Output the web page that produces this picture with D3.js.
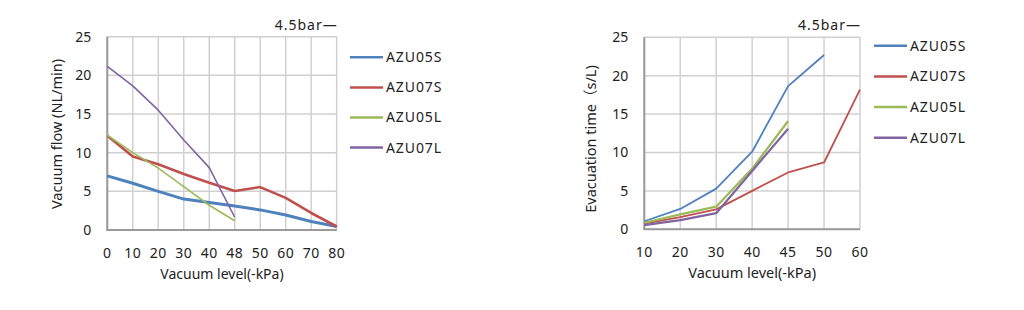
<!DOCTYPE html>
<html><head><meta charset="utf-8">
<script src="https://cdn.jsdelivr.net/npm/d3@7"></script>
<style>body{margin:0;background:#fff}svg{display:block}text{font-family:"Noto Sans","Noto Sans CJK SC",sans-serif;fill:#222}</style>
</head><body><svg id="c" width="1024" height="310"></svg>
<script>
const seriesNames = ["AZU05S","AZU07S","AZU05L","AZU07L"];
const seriesColors = ["#4f81bd","#c0504d","#9bbb59","#8064a2"];
const yTicks = [0,5,10,15,20,25];

// Left chart: vacuum flow
const flowCategories = ["0","10","20","30","40","48","50","60","70","80"];
const flowAZU05S = [7.0,6.05,5.0,4.0,3.55,3.1,2.6,1.95,1.1,0.45];
const flowAZU07S = [12.2,9.5,8.5,7.25,6.1,5.05,5.55,4.15,2.2,0.45];
const flowAZU05L = [12.25,10.0,8.0,5.6,3.2,1.2];
const flowAZU07L = [21.15,18.65,15.5,11.65,8.07,1.65];

// Right chart: evacuation time
const evacCategories = ["10","20","30","40","45","50","60"];
const evacAZU05S = [1.05,2.65,5.3,10.1,18.65,22.7];
const evacAZU07S = [0.75,1.6,2.6,5.0,7.4,8.7,18.2];
const evacAZU05L = [0.85,1.95,2.95,7.9,14.1];
const evacAZU07L = [0.55,1.2,2.1,7.6,13.1];

const svg = d3.select("#c");

function drawChart(o){
  const g = svg.append("g");
  const x = d3.scalePoint().domain(o.categories).range([o.x0,o.x1]).padding(0);
  const y = d3.scaleLinear().domain([0,25]).range([o.y1,o.y0]);
  g.selectAll(".vg").data(o.categories).enter().append("line")
    .attr("x1",d=>x(d)).attr("x2",d=>x(d)).attr("y1",o.y0).attr("y2",o.y1)
    .attr("stroke","#d0d0d0").attr("stroke-width",1.5);
  g.selectAll(".hg").data(yTicks).enter().append("line")
    .attr("x1",o.x0).attr("x2",o.x1).attr("y1",d=>y(d)).attr("y2",d=>y(d))
    .attr("stroke","#d0d0d0").attr("stroke-width",1.5);
  g.append("line").attr("x1",o.x0).attr("x2",o.x0).attr("y1",o.y0).attr("y2",o.y1).attr("stroke","#9a9a9a").attr("stroke-width",2);
  g.append("line").attr("x1",o.x0-1).attr("x2",o.x1).attr("y1",o.y1).attr("y2",o.y1).attr("stroke","#9a9a9a").attr("stroke-width",2);
  g.selectAll(".yt").data(yTicks).enter().append("text")
    .attr("x",o.x0-16).attr("y",d=>y(d)).attr("dy","0.35em").attr("text-anchor","end")
    .attr("font-size",14).text(d=>d);
  g.selectAll(".xt").data(o.categories).enter().append("text")
    .attr("x",d=>x(d)).attr("y",o.y1+23).attr("dy","0.35em").attr("text-anchor","middle")
    .attr("font-size",14).attr("letter-spacing",0.5).text(d=>d);
  const line = d3.line().x((d,i)=>x(o.categories[i])).y(d=>y(d));
  o.series.forEach((s,i)=>{
    g.append("path").datum(s).attr("d",line).attr("fill","none")
      .attr("stroke",seriesColors[i]).attr("stroke-width",o.widths[i]).attr("stroke-linejoin","round");
  });
  g.append("text").attr("x",o.x1+1).attr("y",o.y0-12).attr("dy","0.35em").attr("text-anchor","end")
    .attr("font-size",14).attr("letter-spacing",1).text("4.5bar—");
  g.append("text").attr("x",(o.x0+o.x1)/2).attr("y",o.y1+44).attr("dy","0.35em").attr("text-anchor","middle")
    .attr("font-size",o.xtsize).text("Vacuum level(-kPa)");
  g.append("text").attr("transform",`translate(${o.ytx},${o.yty}) rotate(-90)`).attr("dy","0.35em")
    .attr("text-anchor","middle").attr("font-size",14.5).text(o.ytitle);
  seriesNames.forEach((n,i)=>{
    const ly = o.ly + i*o.lstep;
    g.append("line").attr("x1",o.lx).attr("x2",o.lx+33).attr("y1",ly).attr("y2",ly)
      .attr("stroke",seriesColors[i]).attr("stroke-width",2.5);
    g.append("text").attr("x",o.lx+36).attr("y",ly).attr("dy","0.35em").attr("font-size",14)
      .attr("letter-spacing",0.9).text(n);
  });
}

drawChart({categories:flowCategories, series:[flowAZU05S,flowAZU07S,flowAZU05L,flowAZU07L],
  widths:[3,2.6,1.6,1.6], x0:107.3,x1:336.7,y0:36.7,y1:230, xtsize:14,
  ytitle:"Vacuum flow (NL/min)", ytx:57, yty:134, lx:350, ly:57.3, lstep:30.1});
drawChart({categories:evacCategories, series:[evacAZU05S,evacAZU07S,evacAZU05L,evacAZU07L],
  widths:[1.8,1.8,2.2,2.2], x0:644.3,x1:860,y0:37.3,y1:229.3, xtsize:14.5,
  ytitle:"Evacuation time（s/L)", ytx:591, yty:139, lx:874, ly:45.7, lstep:30.7});
</script></body></html>
